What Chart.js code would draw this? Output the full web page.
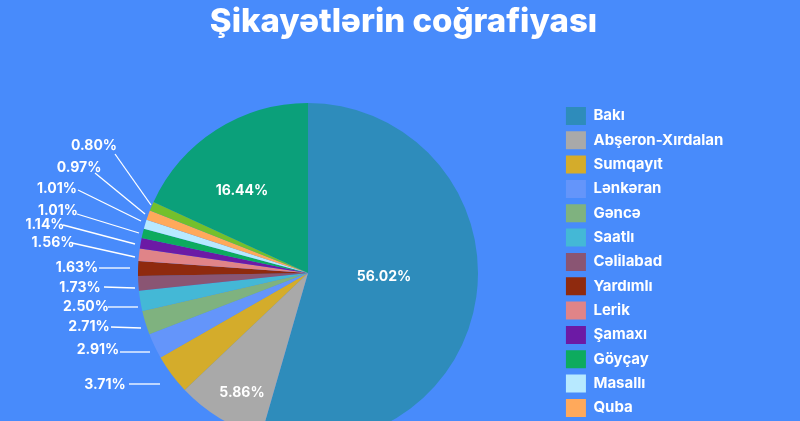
<!DOCTYPE html>
<html>
<head>
<meta charset="utf-8">
<title>Şikayətlərin coğrafiyası</title>
<script src="https://cdn.jsdelivr.net/npm/chart.js@4"></script>
<style>
  html, body { margin: 0; width: 800px; height: 421px; overflow: hidden; background: #488bfb; }
  canvas { display: block; }
</style>
</head>
<body>
<canvas id="chart" width="800" height="443"></canvas>
<script>
const titleText = 'Şikayətlərin coğrafiyası';

// the last two names are cut off at the bottom of the picture
const regions = ['Bakı', 'Abşeron-Xırdalan', 'Sumqayıt', 'Lənkəran', 'Gəncə', 'Saatlı', 'Cəlilabad',
  'Yardımlı', 'Lerik', 'Şamaxı', 'Göyçay', 'Masallı', 'Quba', '', ''];

const sliceShares = [54.47, 8.44, 3.81, 2.42, 2.28, 1.92, 1.39, 1.39, 1.19, 1.0, 0.89, 0.86, 0.92, 0.89, 18.13];

const printedLabels = ['56.02%', '5.86%', '3.71%', '2.91%', '2.71%', '2.50%', '1.73%', '1.63%',
  '1.56%', '1.14%', '1.01%', '1.01%', '0.97%', '0.80%', '16.44%'];

const sliceColors = ['#2e8cbb', '#a9a9a9', '#d4ac2b', '#6495fa', '#7fb27f', '#44b8d6', '#8a5573',
  '#8f2a0e', '#e08488', '#6c1aa5', '#0dab5e', '#b7e9ff', '#ffa95b', '#74c02c', '#0ba07a'];

// label and leader line placement, relative to the pie centre: [labelX, labelY, x1, y1, x2, y2]
const calloutOffsets = [
  [76, 4], [-66, 120],
  [-203, 112, -179, 111, -148, 111],
  [-210, 77, -188, 79, -158, 79],
  [-219, 54, -197, 54, -167, 55],
  [-222, 34, -200, 34, -170, 34],
  [-228, 15, -204, 14, -173, 15],
  [-231, -5, -209, -5, -178, -5],
  [-255, -30, -236, -30, -173, -16],
  [-263, -48, -245, -48, -173, -29],
  [-250, -62, -231, -59, -169, -40],
  [-251, -84, -230, -83, -167, -52],
  [-229, -105, -213, -100, -163, -59],
  [-214, -127, -193, -119, -157, -68],
  [-66, -82]
];

const fontFamily = 'Inter, "Noto Sans", sans-serif';

// the reference lays out title, pie and legend independently of each other
const placeBlocks = {
  id: 'placeBlocks',
  afterLayout(chart) {
    const title = chart.titleBlock;
    title.left = 0;
    title.right = 807;

    const legend = chart.legend;
    const legendWidth = legend.right - legend.left;
    legend.left = 559.6;
    legend.right = legend.left + legendWidth;
    legend.top = 100.6;

    Object.assign(chart.chartArea, { left: 138, right: 478, top: 103, bottom: 443, width: 340, height: 340 });
  }
};

const callouts = {
  id: 'callouts',
  afterDatasetsDraw(chart) {
    const { ctx } = chart;
    const arcs = chart.getDatasetMeta(0).data;
    const cx = arcs[0].x;
    const cy = arcs[0].y;

    ctx.save();
    ctx.fillStyle = '#ffffff';
    ctx.strokeStyle = '#ffffff';
    ctx.lineWidth = 1.3;
    ctx.font = '700 14px ' + fontFamily;
    ctx.textAlign = 'center';
    ctx.textBaseline = 'middle';

    calloutOffsets.forEach((c, i) => {
      ctx.fillText(printedLabels[i], cx + c[0], cy + c[1]);
      if (c.length > 2) {
        ctx.beginPath();
        ctx.moveTo(cx + c[2], cy + c[3]);
        ctx.lineTo(cx + c[4], cy + c[5]);
        ctx.stroke();
      }
    });
    ctx.restore();
  }
};

new Chart(document.getElementById('chart'), {
  type: 'pie',
  data: {
    labels: regions,
    datasets: [{
      data: sliceShares,
      backgroundColor: sliceColors,
      borderWidth: 0
    }]
  },
  options: {
    responsive: false,
    animation: false,
    devicePixelRatio: 1,
    plugins: {
      title: {
        display: true,
        text: titleText,
        color: '#ffffff',
        font: { family: fontFamily, size: 33, weight: '800' },
        padding: { top: 2, bottom: 10 }
      },
      legend: {
        position: 'right',
        align: 'start',
        labels: {
          color: '#ffffff',
          font: { family: fontFamily, size: 15, weight: '700' },
          boxWidth: 20,
          boxHeight: 18,
          padding: 6.33,
          filter: item => item.text !== ''
        }
      },
      tooltip: { enabled: false }
    }
  },
  plugins: [placeBlocks, callouts]
});
</script>
</body>
</html>
